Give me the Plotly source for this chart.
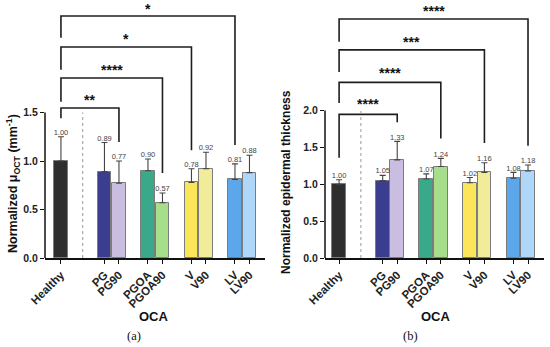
import plotly.graph_objects as go

# ---------------- data ----------------
categories = ["Healthy", "PG", "PG90", "PGOA", "PGOA90", "V", "V90", "LV", "LV90"]
positions = [0, 3, 4, 6, 7, 9, 10, 12, 13]
colors = ["#2e2e2e", "#3b3e8e", "#c9bde0", "#3aa98a", "#a7de8c",
          "#fbe558", "#f0ec99", "#5ba7ea", "#aed7fa"]

mu_vals = [1.00, 0.89, 0.77, 0.90, 0.57, 0.78, 0.92, 0.81, 0.88]
mu_err = [0.25, 0.30, 0.23, 0.12, 0.10, 0.14, 0.17, 0.16, 0.18]

thick_vals = [1.00, 1.05, 1.33, 1.07, 1.24, 1.02, 1.16, 1.08, 1.18]
thick_err = [0.06, 0.07, 0.25, 0.07, 0.11, 0.07, 0.13, 0.08, 0.08]

mu_sig_targets = ["PG90", "PGOA90", "V", "LV"]
mu_sig_labels = ["**", "****", "*", "*"]
thick_sig_targets = ["PG90", "PGOA90", "V90", "LV90"]
thick_sig_labels = ["****", "****", "***", "****"]

# bracket geometry (data units of each panel)
mu_br_top = [1.546, 1.856, 2.175, 2.495]
mu_br_left_bottom = [1.44, 1.61, 1.94, 2.27]
mu_br_right_bottom = [1.196, 0.876, 1.11, 1.165]
mu_star_y = [1.63, 1.94, 2.26, 2.57]

th_br_top = [1.946, 2.38, 2.82, 3.24]
th_br_left_bottom = [1.36, 2.10, 2.52, 2.93]
th_br_right_bottom = [1.84, 1.62, 1.56, 1.52]
th_star_y = [2.09, 2.51, 2.93, 3.35]

FONT = "Liberation Sans, Arial, sans-serif"
W, H = 550, 347
B = 89  # bottom margin (pixels)

fig = go.Figure()


def add_panel(vals, errs, xa, ya, targets, labels, tops, lb, rb, stary):
    xref = xa.replace("axis", "")
    yref = ya.replace("axis", "")
    fig.add_trace(go.Bar(
        x=positions, y=vals, width=0.95,
        marker=dict(color=colors, line=dict(color="#7c7c7c", width=1)),
        error_y=dict(type="data", symmetric=False, array=errs,
                     arrayminus=[0] * len(errs), color="#444444",
                     thickness=1.1, width=3),
        xaxis=xref, yaxis=yref, showlegend=False, hoverinfo="skip"))
    fig.add_trace(go.Scatter(
        x=positions, y=[v + e for v, e in zip(vals, errs)],
        mode="text", text=[f"{v:.2f}" for v in vals],
        textposition="top center", cliponaxis=False,
        textfont=dict(size=7.5, color="#444444", family=FONT),
        xaxis=xref, yaxis=yref, showlegend=False, hoverinfo="skip"))
    x0 = positions[0]
    for t, lab, top, l_b, r_b, sy in zip(targets, labels, tops, lb, rb, stary):
        x1 = positions[categories.index(t)]
        fig.add_trace(go.Scatter(
            x=[x0, x0, x1, x1], y=[l_b, top, top, r_b], mode="lines",
            line=dict(color="#1e1e1e", width=1.6),
            xaxis=xref, yaxis=yref, showlegend=False, hoverinfo="skip"))
        fig.add_annotation(x=(x0 + x1) / 2, y=sy, xref=xref, yref=yref,
                           text=f"<b>{lab}</b>", showarrow=False,
                           font=dict(size=14, color="#111111", family=FONT),
                           xanchor="center", yanchor="middle", borderpad=0)


add_panel(mu_vals, mu_err, "xaxis", "yaxis", mu_sig_targets, mu_sig_labels,
          mu_br_top, mu_br_left_bottom, mu_br_right_bottom, mu_star_y)
add_panel(thick_vals, thick_err, "xaxis2", "yaxis2", thick_sig_targets,
          thick_sig_labels, th_br_top, th_br_left_bottom, th_br_right_bottom,
          th_star_y)

xtickfont = dict(size=11.5, color="#222222", family=FONT, weight="bold")
ytickfont = dict(size=10.5, color="#222222", family=FONT, weight="bold")
xcommon = dict(tickvals=positions, ticktext=categories, tickangle=-45,
               tickfont=xtickfont, showline=True, linecolor="#111111",
               linewidth=1.5, ticks="outside", ticklen=4, tickwidth=1.3,
               tickcolor="#111111", showgrid=False, zeroline=False,
               automargin=False)
ycommon = dict(tickfont=ytickfont, ticks="outside", ticklen=4, tickwidth=1.3,
               tickcolor="#111111", showgrid=False, zeroline=False,
               showline=False, tickformat=".1f", automargin=False)

fig.update_layout(
    width=W, height=H, margin=dict(l=0, r=0, t=0, b=B, autoexpand=False),
    plot_bgcolor="white", paper_bgcolor="white",
    xaxis=dict(domain=[45 / W, 265 / W], range=[-1.1, 14.07], anchor="y", **xcommon),
    yaxis=dict(domain=[0, 1], range=[0, 258 / 97], anchor="x",
               tickvals=[0, 0.5, 1.0, 1.5], **ycommon),
    xaxis2=dict(domain=[325 / W, 544 / W], range=[-0.97, 14.1], anchor="y2", **xcommon),
    yaxis2=dict(domain=[0, 1], range=[0, 257 / 73.5], anchor="x2",
                tickvals=[0, 0.5, 1.0, 1.5, 2.0], **ycommon),
    bargap=0,
)

# manual y axis lines and dotted separators
for xr, ymax in (("x", 1.5), ("x2", 2.0)):
    yr = "y" if xr == "x" else "y2"
    fig.add_shape(type="line", xref=f"{xr} domain", yref=yr, x0=0, x1=0,
                  y0=0, y1=ymax, line=dict(color="#111111", width=1.5))
    fig.add_shape(type="line", xref=xr, yref=yr, x0=1.5, x1=1.5, y0=0, y1=ymax,
                  line=dict(color="#9a9a9a", width=1, dash="dot"))

PH = H - B  # plot height in px


def py(pix):
    return (PH - pix) / PH


def label(x, y, text, font, angle=0):
    fig.add_annotation(x=x / W, y=py(y), xref="paper", yref="paper", text=text,
                       textangle=angle, showarrow=False, font=font,
                       xanchor="center", yanchor="middle")


label(13, 184, "<b>Normalized μ<sub>OCT</sub> (mm<sup>-1</sup>)</b>",
      dict(size=12.5, color="#111111", family=FONT), -90)
label(286, 182, "<b>Normalized epidermal thickness</b>",
      dict(size=12, color="#111111", family=FONT), -90)
for cx in (154, 436):
    label(cx, 316, "<b>OCA</b>", dict(size=13, color="#111111", family=FONT))
for cx, lab in ((134, "(a)"), (410, "(b)")):
    label(cx, 336, lab, dict(size=12.5, color="#111111",
                             family="Liberation Serif, Times New Roman, serif"))

fig.write_html("out.html", config={"displayModeBar": False},
               post_script="document.body.style.margin='0px';")
